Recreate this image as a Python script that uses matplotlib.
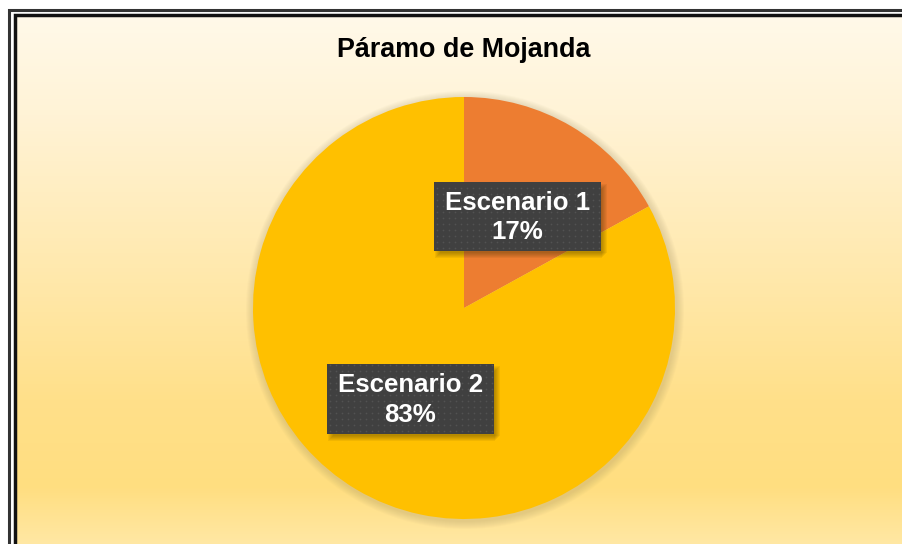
import numpy as np
import matplotlib
matplotlib.use("Agg")
import matplotlib.pyplot as plt
from matplotlib.patches import Rectangle, Circle
from matplotlib.colors import LinearSegmentedColormap

plt.rcParams['font.family'] = ['Liberation Sans', 'DejaVu Sans']

title = "Páramo de Mojanda"
labels = ["Escenario 1", "Escenario 2"]
shares = [17, 83]
colors = ["#ED7D31", "#FFC000"]

W, H = 903, 544
fig = plt.figure(figsize=(W / 100, H / 100), dpi=100)
fig.patch.set_facecolor("white")
ax = fig.add_axes([0, 0, 1, 1])

# background gradient (top cream -> yellow, a bit lighter at the very bottom)
stops = [(0.0, "#FFF9E9"), (0.18, "#FFF3D6"), (0.46, "#FFE9AE"),
         (0.70, "#FFE08A"), (0.86, "#FFDE80"), (1.0, "#FFEBB0")]
cmap = LinearSegmentedColormap.from_list("bg", stops)
grad = np.linspace(0, 1, 256).reshape(-1, 1)
ax.imshow(grad, cmap=cmap, aspect="auto", extent=(16, W + 20, -20, H - 16),
          origin="upper", zorder=0)

# double frame
ax.add_patch(Rectangle((9.5, -30), W + 40, H - 9.5 + 30, fill=False,
                       ec="#333333", lw=2.2, zorder=1))
ax.add_patch(Rectangle((15, -30), W + 40, H - 15 + 30, fill=False,
                       ec="#111111", lw=2.5, zorder=1))

cx, cy, r = 464, H - 308, 211

# soft shadow around the pie
for k in range(8):
    ax.add_patch(Circle((cx + 1, cy - 2), r + 8 - k, color="#9A8A60",
                        alpha=0.035, lw=0, zorder=2))

ax.pie(shares, colors=colors, startangle=90, counterclock=False,
       center=(cx, cy), radius=r, frame=True,
       wedgeprops=dict(linewidth=0, zorder=3))
ax.set_xlim(0, W)
ax.set_ylim(0, H)
ax.axis("off")

ax.text(cx, H - 50, title, ha="center", va="center", fontsize=19.4,
        fontweight="bold", color="black", zorder=5)

# label boxes
boxes = [(434, 182, 167, 69), (327, 364, 167, 70)]
for (x0, y0, bw, bh), lab, val in zip(boxes, labels, shares):
    yb = H - y0 - bh
    for k in range(6):
        ax.add_patch(Rectangle((x0 + 1 + k, yb - 7 + k), bw, bh,
                               color="#3A3000", alpha=0.07, lw=0, zorder=5))
    ax.add_patch(Rectangle((x0, yb), bw, bh, color="#404040", lw=0, zorder=6))
    # dotted texture
    xs = np.arange(x0 + 3, x0 + bw, 6)
    ys = np.arange(yb + 3, yb + bh, 6)
    gx, gy = np.meshgrid(xs, ys)
    ax.scatter(gx.ravel(), gy.ravel(), s=1.6, color="#525252", lw=0, zorder=7)
    ax.text(x0 + bw / 2, yb + bh / 2 - 1, f"{lab}\n{val}%", ha="center",
            va="center", fontsize=18.6, fontweight="bold", color="white",
            linespacing=1.3, zorder=8)

fig.savefig("out.png", dpi=100)
